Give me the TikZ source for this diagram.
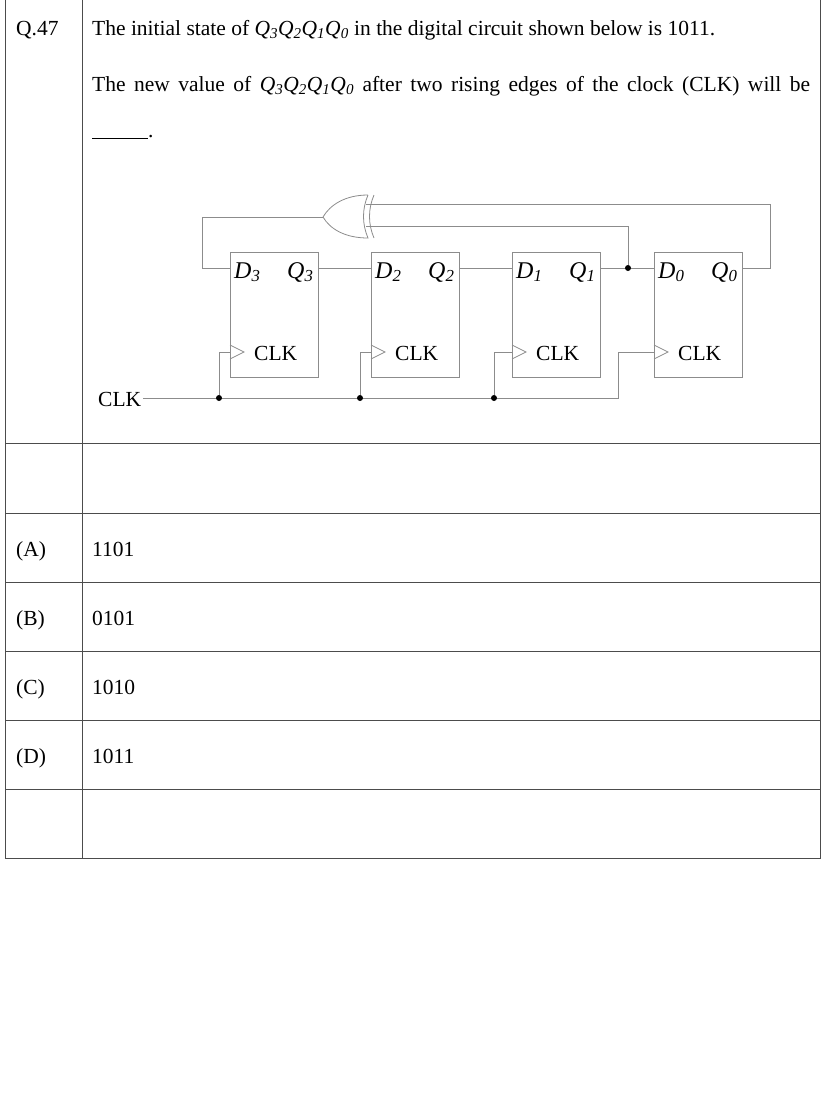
\documentclass[tikz,border=0pt]{standalone}
\usepackage{fontspec}
\setmainfont{Liberation Serif}
\begin{document}
\begin{tikzpicture}[x=1pt,y=-1pt,
  grid/.style={draw=black!70,line width=0.8pt},
  wire/.style={draw=black!45,line width=0.8pt},
  ff/.style={draw=black!45,line width=0.8pt},
  dot/.style={circle,fill=black,inner sep=0pt,minimum size=6pt},
  txt/.style={anchor=base west,inner sep=0pt,font=\fontsize{21.5}{46}\selectfont},
  lab/.style={anchor=base west,inner sep=0pt,font=\fontsize{24}{26}\selectfont\itshape}]
\useasboundingbox (0,0) rectangle (830,1093);
% table
\draw[grid] (5,0) -- (5,858) -- (820,858) -- (820,0);
\draw[grid] (82,0) -- (82,858);
\foreach \y in {443,513,582,651,720,789} \draw[grid] (5,\y) -- (820,\y);
\node[txt] (q) at (16,35) {Q.47};
\node[txt] (l1) at (92,35) {The initial state of \textit{Q\textsubscript{3}Q\textsubscript{2}Q\textsubscript{1}Q\textsubscript{0}} in the digital circuit shown below is 1011.};
\node[txt,text width=718pt,align=justify,anchor=north west] (l2) at (92,76) {The new value of \textit{Q\textsubscript{3}Q\textsubscript{2}Q\textsubscript{1}Q\textsubscript{0}} after two rising edges of the clock (CLK) will be\linebreak\rule[-1pt]{56pt}{0.6pt}.};
\node[txt] (a) at (16,556) {(A)}; \node[txt] (av) at (92,556) {1101};
\node[txt] (b) at (16,625) {(B)}; \node[txt] (bv) at (92,625) {0101};
\node[txt] (c) at (16,694) {(C)}; \node[txt] (cv) at (92,694) {1010};
\node[txt] (d) at (16,763) {(D)}; \node[txt] (dv) at (92,763) {1011};
% flip-flops
\foreach \x/\n in {230/3,371/2,512/1,654/0}{
  \draw[ff] (\x,252) rectangle ++(88,125);
  \draw[wire] (\x,345) -- ++(14,7) -- (\x,359);
  \node[lab] (D\n) at (\x+4,278) {D\textsubscript{\n}};
  \node[lab] (Q\n) at (\x+57,278) {Q\textsubscript{\n}};
  \node[txt] (C\n) at (\x+24,360) {CLK};
  \coordinate (din\n) at (\x,268);
  \coordinate (qout\n) at (\x+88,268);
  \coordinate (ck\n) at (\x,352);
}
% XOR gate
\draw[wire] (368,195) .. controls (345,195) and (330,205) .. (323,217)
            .. controls (330,229) and (345,238) .. (368,238)
            .. controls (362,224) and (362,209) .. (368,195);
\draw[wire] (374,195) .. controls (368,209) and (368,224) .. (374,238);
\coordinate (xo) at (323,217);
% wires
\draw[wire] (xo) -- (202,217) -- (202,268) -- (din3);
\draw[wire] (qout3) -- (din2);
\draw[wire] (qout2) -- (din1);
\draw[wire] (qout1) -- (din0);
\node[dot] (j) at (628,268) {};
\draw[wire] (j) -- (628,226) -- (366,226);
\draw[wire] (qout0) -- (770,268) -- (770,204) -- (366,204);
% clock
\node[txt] (clk) at (98,406) {CLK};
\coordinate (cs) at (143,398);
\draw[wire] (cs) -- (618,398) -- (618,352) -- (ck0);
\foreach \xx/\n in {219/3,360/2,494/1}{
  \node[dot] (k\n) at (\xx,398) {};
  \draw[wire] (k\n) -- (\xx,352) -- (ck\n);
}
\end{tikzpicture}
\end{document}
